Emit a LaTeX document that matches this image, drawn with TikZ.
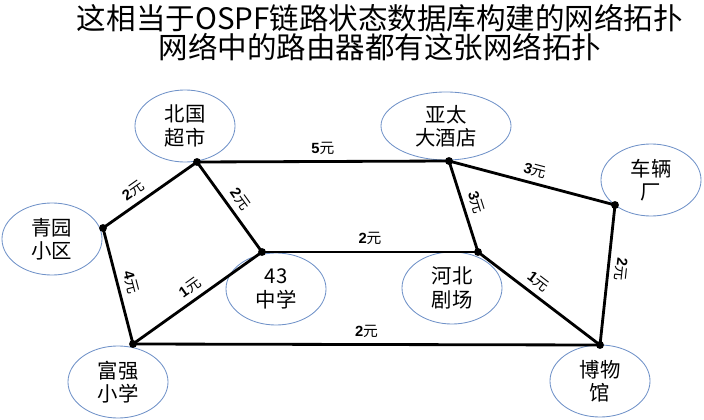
\documentclass[tikz,border=0pt]{standalone}
\usepackage{fontspec}
\setmainfont{Liberation Sans}
\newfontfamily\cjk{Noto Sans CJK SC}
\usetikzlibrary{shapes.geometric}
\definecolor{ringblue}{RGB}{112,146,200}
\newcommand{\yuan}[1]{#1{\cjk\mdseries 元}}
\tikzset{
	place/.style={ellipse,draw=ringblue,line width=0.6pt,minimum width=2.5cm,minimum height=1.8cm,inner sep=0pt,align=center,font=\cjk\fontsize{14.5}{16.5}\selectfont},
	link/.style={line width=2pt},
	cost/.style={sloped,above=2.5pt,inner sep=1.5pt,font=\bfseries\fontsize{10.5}{11}\selectfont},
}
\begin{document}
\begin{tikzpicture}[x=0.025cm,y=-0.025cm,line join=round,line cap=round]
		\useasboundingbox (0,0) rectangle (704,420);
		\node (title) at (380,33) [align=center,font=\cjk\fontsize{21}{20.5}\selectfont]{这相当于OSPF链路状态数据库构建的网络拓扑\\网络中的路由器都有这张网络拓扑};
		% places
		\node[place] (beiguo) at (185,126) {北国\\超市};
		\node[place] (qingyuan) at (52,239) {青园\\小区};
		\node[place,minimum width=3.25cm,minimum height=1.7cm] (yatai) at (446,126) {亚太\\大酒店};
		\node[place] (cheliang) at (651,180) {车辆\\厂};
		\node[place] (zhongxue) at (276,289) {43\\中学};
		\node[place] (hebei) at (452,288) {河北\\剧场};
		\node[place] (fuqiang) at (118,382) {富强\\小学};
		\node[place] (bowu) at (600,381) {博物\\馆};
		% routers
		\coordinate (rbg) at (197,162);
		\coordinate (rqy) at (103,228);
		\coordinate (ryt) at (449,161);
		\coordinate (rcl) at (615,205);
		\coordinate (rzx) at (262,252);
		\coordinate (rhb) at (478,252);
		\coordinate (rfq) at (133,344);
		\coordinate (rbw) at (600,345);
		% links
		\draw[link] (rbg)--(ryt) node[cost,midway]{\yuan{5}};
		\draw[link] (rqy)--(rbg) node[cost,pos=0.4]{\yuan{2}};
		\draw[link] (rbg)--(rzx) node[cost,midway]{\yuan{2}};
		\draw[link] (ryt)--(rcl) node[cost,midway]{\yuan{3}};
		\draw[link] (ryt)--(rhb) node[cost,midway]{\yuan{3}};
		\draw[link] (rzx)--(rhb) node[cost,midway]{\yuan{2}};
		\draw[link] (rqy)--(rfq) node[cost,midway]{\yuan{4}};
		\draw[link] (rfq)--(rzx) node[cost,midway]{\yuan{1}};
		\draw[link] (rfq)--(rbw) node[cost,midway]{\yuan{2}};
		\draw[link] (rhb)--(rbw) node[cost,pos=0.43]{\yuan{1}};
		\draw[link] (rcl)--(rbw) node[cost,pos=0.45,allow upside down]{\yuan{2}};
		\foreach \r in {rbg,rqy,ryt,rcl,rzx,rhb,rfq,rbw}
			\fill (\r) circle (2.8pt);
		\end{tikzpicture}
\end{document}
